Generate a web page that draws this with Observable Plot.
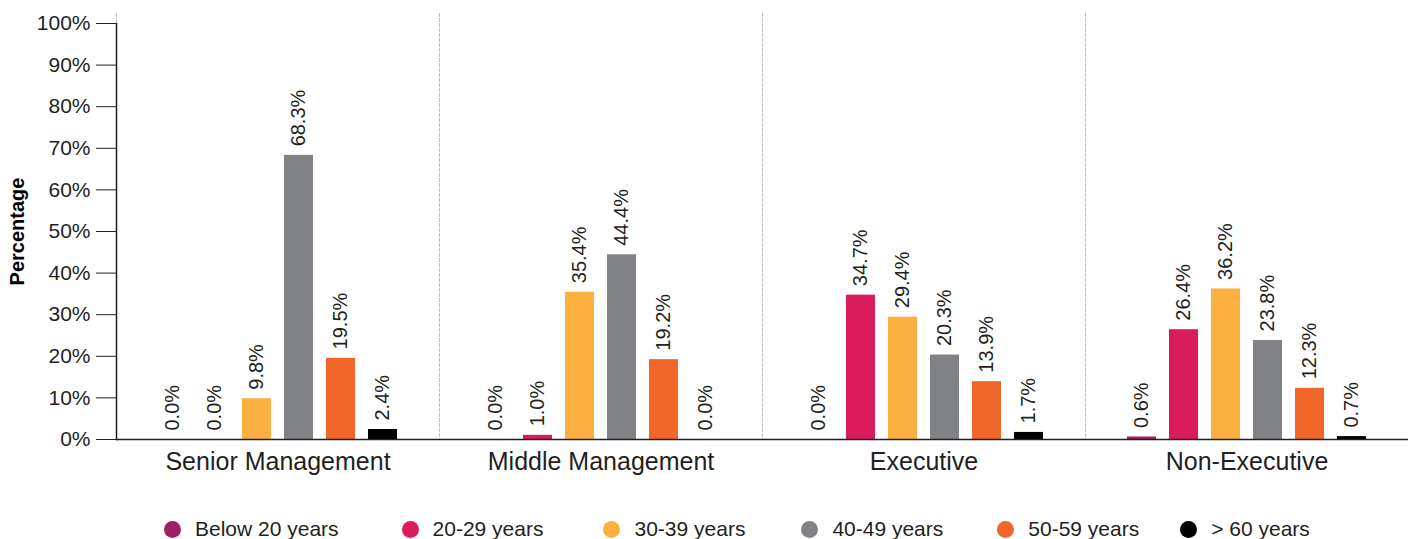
<!DOCTYPE html>
<html>
<head>
<meta charset="utf-8">
<script src="https://cdn.jsdelivr.net/npm/d3@7"></script>
<script src="https://cdn.jsdelivr.net/npm/@observablehq/plot@0.6"></script>
<style>
  html, body { margin: 0; padding: 0; background: #fff; }
  body { width: 1414px; height: 539px; overflow: hidden; font-family: "Liberation Sans", Arial, sans-serif; color: #231f20; }
  #legend { display: flex; align-items: center; margin-left: 164px; margin-top: 25px; height: 28px; font-size: 21px; }
  .item { display: flex; align-items: center; }
  .sw { width: 17px; height: 17px; border-radius: 50%; margin-right: 14px; }
</style>
</head>
<body>
<div id="chart"></div>
<div id="legend"></div>
<script>
const groups = ["Senior Management", "Middle Management", "Executive", "Non-Executive"];
const ages = ["Below 20 years", "20-29 years", "30-39 years", "40-49 years", "50-59 years", "> 60 years"];
const colors = ["#9E1F63", "#DA1C5C", "#FBB040", "#808285", "#F1672A", "#000000"];
const seniorValues = [0.0, 0.0, 9.8, 68.3, 19.5, 2.4];
const middleValues = [0.0, 1.0, 35.4, 44.4, 19.2, 0.0];
const executiveValues = [0.0, 34.7, 29.4, 20.3, 13.9, 1.7];
const nonExecutiveValues = [0.6, 26.4, 36.2, 23.8, 12.3, 0.7];
const yTicks = [0, 10, 20, 30, 40, 50, 60, 70, 80, 90, 100];
const legendGaps = [63, 60, 56, 54, 41];

const series = [seniorValues, middleValues, executiveValues, nonExecutiveValues];
const data = [];
groups.forEach((g, gi) => ages.forEach((a, ai) => data.push({group: g, age: a, value: series[gi][ai]})));

const textColor = "#231f20";
const chart = Plot.plot({
  width: 1414,
  height: 490,
  marginLeft: 116,
  marginRight: 6,
  marginTop: 23,
  marginBottom: 51,
  style: {fontFamily: "Liberation Sans, Arial, sans-serif", color: textColor, background: "#fff"},
  fx: {domain: groups, padding: 0},
  x: {domain: ages, paddingInner: 0.302, paddingOuter: 0.907, axis: null},
  y: {domain: [0, 100], axis: null},
  color: {domain: ages, range: colors},
  marks: [
    Plot.frame({anchor: "left", stroke: "#bdbdbd", strokeDasharray: "3,2", insetTop: -10}),
    Plot.barY(data, {fx: "group", x: "age", y: "value", fill: "age"}),
    Plot.text(data, {fx: "group", x: "age", y: "value", text: d => d.value.toFixed(1) + "%",
      rotate: -90, textAnchor: "start", dy: -9, fontSize: 20, fill: textColor}),
    Plot.ruleY([0], {stroke: textColor, strokeWidth: 1.5}),
    Plot.axisY({ticks: yTicks, tickFormat: d => d + "%", tickSize: 20, tickPadding: 6, fontSize: 21,
      stroke: textColor, fill: textColor, label: null}),
    Plot.axisY({ticks: [], label: "Percentage", labelAnchor: "center", labelOffset: 107, labelArrow: "none",
      fontSize: 20, fontWeight: "bold", fill: "#000"}),
    Plot.axisFx({anchor: "bottom", tickSize: 0, tickPadding: 13, fontSize: 25, fill: textColor, label: null}),
    Plot.frame({anchor: "left", facet: "super", stroke: textColor, strokeWidth: 1.5})
  ]
});
document.getElementById("chart").appendChild(chart);

const legend = document.getElementById("legend");
ages.forEach((a, i) => {
  const item = document.createElement("div");
  item.className = "item";
  if (i > 0) item.style.marginLeft = legendGaps[i - 1] + "px";
  const sw = document.createElement("span");
  sw.className = "sw";
  sw.style.background = colors[i];
  const t = document.createElement("span");
  t.textContent = a;
  item.appendChild(sw);
  item.appendChild(t);
  legend.appendChild(item);
});
</script>
</body>
</html>
